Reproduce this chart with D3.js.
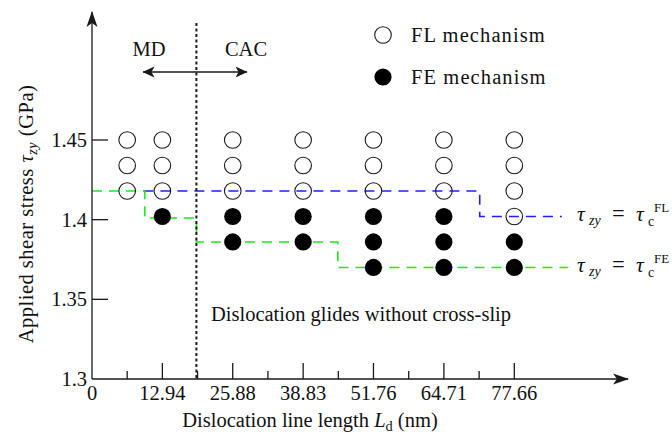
<!DOCTYPE html>
<html>
<head>
<meta charset="utf-8">
<script src="https://cdn.jsdelivr.net/npm/d3@7"></script>
<style>
  html, body { margin: 0; padding: 0; background: #fff; }
  svg { display: block; }
  text { font-family: "Liberation Serif", "Times New Roman", serif; fill: #111; }
</style>
</head>
<body>
<svg id="chart" width="672" height="433"></svg>
<script>
// ---------- data ----------
const lengths = [6.47, 12.94, 25.88, 38.83, 51.76, 64.71, 77.66];
const flStresses = [
  [1.45, 1.434, 1.418],
  [1.45, 1.434, 1.418],
  [1.45, 1.434, 1.418],
  [1.45, 1.434, 1.418],
  [1.45, 1.434, 1.418],
  [1.45, 1.434, 1.418],
  [1.45, 1.434, 1.418, 1.402]
];
const feStresses = [
  [],
  [1.402],
  [1.402, 1.386],
  [1.402, 1.386],
  [1.402, 1.386, 1.37],
  [1.402, 1.386, 1.37],
  [1.386, 1.37]
];
const xMajorTicks = [0, 12.94, 25.88, 38.83, 51.76, 64.71, 77.66];
const xMinorTicks = [6.47, 19.41, 32.35, 45.3, 58.24, 71.19];
const yTicks = [1.3, 1.35, 1.4, 1.45];
const tauFLStep = [[9.45, 1.418], [71.3, 1.418], [71.3, 1.402], [86.4, 1.402]];
const tauFEStep = [[0, 1.418], [9.7, 1.418], [9.7, 1.401], [19.2, 1.401], [19.2, 1.386], [45.2, 1.386], [45.2, 1.37], [87.5, 1.37]];
const mdCacBoundary = 19.2;

// ---------- scales ----------
const svg = d3.select("#chart");
const x = d3.scaleLinear().domain([0, 77.66]).range([92, 514.3]);
const y = d3.scaleLinear().domain([1.3, 1.45]).range([379, 140]);
const X0 = x(0), Y0 = y(1.3);
const ink = "#1a1a1a";
const fs = 20.5;

// arrowhead markers (stealth-like)
const defs = svg.append("defs");
defs.append("marker").attr("id", "stealth")
  .attr("viewBox", "0 0 16 12").attr("refX", 15).attr("refY", 6)
  .attr("markerWidth", 16).attr("markerHeight", 12)
  .attr("markerUnits", "userSpaceOnUse").attr("orient", "auto-start-reverse")
  .append("path").attr("d", "M0,0.5 L16,6 L0,11.5 L4,6 Z").attr("fill", ink);
defs.append("marker").attr("id", "stealthSmall")
  .attr("viewBox", "0 0 12 12").attr("refX", 11.5).attr("refY", 6)
  .attr("markerWidth", 12).attr("markerHeight", 12)
  .attr("markerUnits", "userSpaceOnUse").attr("orient", "auto-start-reverse")
  .append("path").attr("d", "M0,0.5 L12,6 L0,11.5 L3,6 Z").attr("fill", ink);

// ---------- step lines ----------
const line = d3.line().x(d => x(d[0])).y(d => y(d[1]));
svg.append("path").datum(tauFLStep).attr("d", line)
  .attr("fill", "none").attr("stroke", "#1f1fff").attr("stroke-width", 1.6)
  .attr("stroke-dasharray", "10,7");
svg.append("path").datum(tauFEStep).attr("d", line)
  .attr("fill", "none").attr("stroke", "#14ee14").attr("stroke-width", 1.6)
  .attr("stroke-dasharray", "10,7");

// ---------- MD/CAC boundary ----------
svg.append("line")
  .attr("x1", x(mdCacBoundary)).attr("x2", x(mdCacBoundary))
  .attr("y1", 23).attr("y2", Y0)
  .attr("stroke", ink).attr("stroke-width", 2).attr("stroke-dasharray", "3,2.5");

// ---------- axes ----------
svg.append("line").attr("x1", X0).attr("x2", 628).attr("y1", Y0).attr("y2", Y0)
  .attr("stroke", ink).attr("stroke-width", 1.3).attr("marker-end", "url(#stealth)");
svg.append("line").attr("x1", X0).attr("x2", X0).attr("y1", Y0).attr("y2", 12)
  .attr("stroke", ink).attr("stroke-width", 1.3).attr("marker-end", "url(#stealth)");

// x ticks
svg.selectAll(".xmaj").data(xMajorTicks.filter(d => d > 0)).join("line")
  .attr("x1", d => x(d)).attr("x2", d => x(d)).attr("y1", Y0).attr("y2", Y0 - 16)
  .attr("stroke", ink).attr("stroke-width", 1.3);
svg.selectAll(".xmin").data(xMinorTicks).join("line")
  .attr("x1", d => x(d)).attr("x2", d => x(d)).attr("y1", Y0).attr("y2", Y0 - 8)
  .attr("stroke", ink).attr("stroke-width", 1.3);
svg.selectAll(".xlab").data(xMajorTicks).join("text")
  .attr("x", d => x(d)).attr("y", Y0 + 21).attr("text-anchor", "middle")
  .attr("font-size", fs).text(d => d === 0 ? "0" : d3.format(".2f")(d));

// y ticks
svg.selectAll(".ytk").data(yTicks.filter(d => d > 1.3)).join("line")
  .attr("x1", X0).attr("x2", X0 + 16).attr("y1", d => y(d)).attr("y2", d => y(d))
  .attr("stroke", ink).attr("stroke-width", 1.3);
svg.selectAll(".ylab").data(yTicks).join("text")
  .attr("x", 87).attr("y", d => y(d) + 7).attr("text-anchor", "end")
  .attr("font-size", fs).text(d => d3.format("")(d));

// axis titles
const xt = svg.append("text").attr("x", 310).attr("y", 427).attr("text-anchor", "middle").attr("font-size", fs);
xt.append("tspan").text("Dislocation line length ");
xt.append("tspan").attr("font-style", "italic").text("L");
xt.append("tspan").attr("font-size", fs * 0.7).attr("dy", 4).text("d");
xt.append("tspan").attr("dy", -4).text(" (nm)");

const yt = svg.append("text").attr("transform", "translate(33,214) rotate(-90)")
  .attr("text-anchor", "middle").attr("font-size", fs).attr("letter-spacing", 0.5);
yt.append("tspan").text("Applied shear stress ");
yt.append("tspan").attr("font-style", "italic").text("τ");
yt.append("tspan").attr("font-style", "italic").attr("font-size", fs * 0.7).attr("dy", 4).text("zy");
yt.append("tspan").attr("dy", -4).text(" (GPa)");

// ---------- points ----------
const flPts = lengths.flatMap((L, i) => flStresses[i].map(s => [L, s]));
const fePts = lengths.flatMap((L, i) => feStresses[i].map(s => [L, s]));
svg.selectAll(".fl").data(flPts).join("circle")
  .attr("cx", d => x(d[0])).attr("cy", d => y(d[1])).attr("r", 8.3)
  .attr("fill", "none").attr("stroke", ink).attr("stroke-width", 1.1);
svg.selectAll(".fe").data(fePts).join("circle")
  .attr("cx", d => x(d[0])).attr("cy", d => y(d[1])).attr("r", 8.6)
  .attr("fill", "#000");

// ---------- annotations ----------
svg.append("text").attr("x", 149).attr("y", 56).attr("text-anchor", "middle").attr("font-size", fs).text("MD");
svg.append("text").attr("x", 246).attr("y", 56).attr("text-anchor", "middle").attr("font-size", fs).text("CAC");
svg.append("line").attr("x1", 143).attr("x2", 247).attr("y1", 72).attr("y2", 72)
  .attr("stroke", ink).attr("stroke-width", 1.5)
  .attr("marker-start", "url(#stealthSmall)").attr("marker-end", "url(#stealthSmall)");

svg.append("text").attr("x", 361).attr("y", 321).attr("text-anchor", "middle")
  .attr("font-size", fs).text("Dislocation glides without cross-slip");

// legend
svg.append("circle").attr("cx", 383).attr("cy", 35).attr("r", 8.3)
  .attr("fill", "none").attr("stroke", ink).attr("stroke-width", 1.1);
svg.append("text").attr("x", 411).attr("y", 42).attr("font-size", fs).attr("letter-spacing", 1.1).text("FL mechanism");
svg.append("circle").attr("cx", 383).attr("cy", 77).attr("r", 8.6).attr("fill", "#000");
svg.append("text").attr("x", 411).attr("y", 84).attr("font-size", fs).attr("letter-spacing", 1.1).text("FE mechanism");

// tau labels (separate pieces so sub/superscripts sit like the original)
function tauLabel(yv, sup) {
  const by = y(yv) + 5;
  const g = svg.append("g");
  g.append("text").attr("x", 577).attr("y", by).attr("font-size", fs + 1).attr("font-style", "italic").text("τ");
  g.append("text").attr("x", 589).attr("y", by + 4).attr("font-size", 14).attr("font-style", "italic").text("zy");
  g.append("text").attr("x", 612).attr("y", by).attr("font-size", fs + 2).text("=");
  g.append("text").attr("x", 636).attr("y", by).attr("font-size", fs + 1).attr("font-style", "italic").text("τ");
  g.append("text").attr("x", 648).attr("y", by + 5).attr("font-size", 14).text("c");
  g.append("text").attr("x", 654).attr("y", by - 9).attr("font-size", 13).text(sup);
}
tauLabel(1.402, "FL");
tauLabel(1.37, "FE");
</script>
</body>
</html>
